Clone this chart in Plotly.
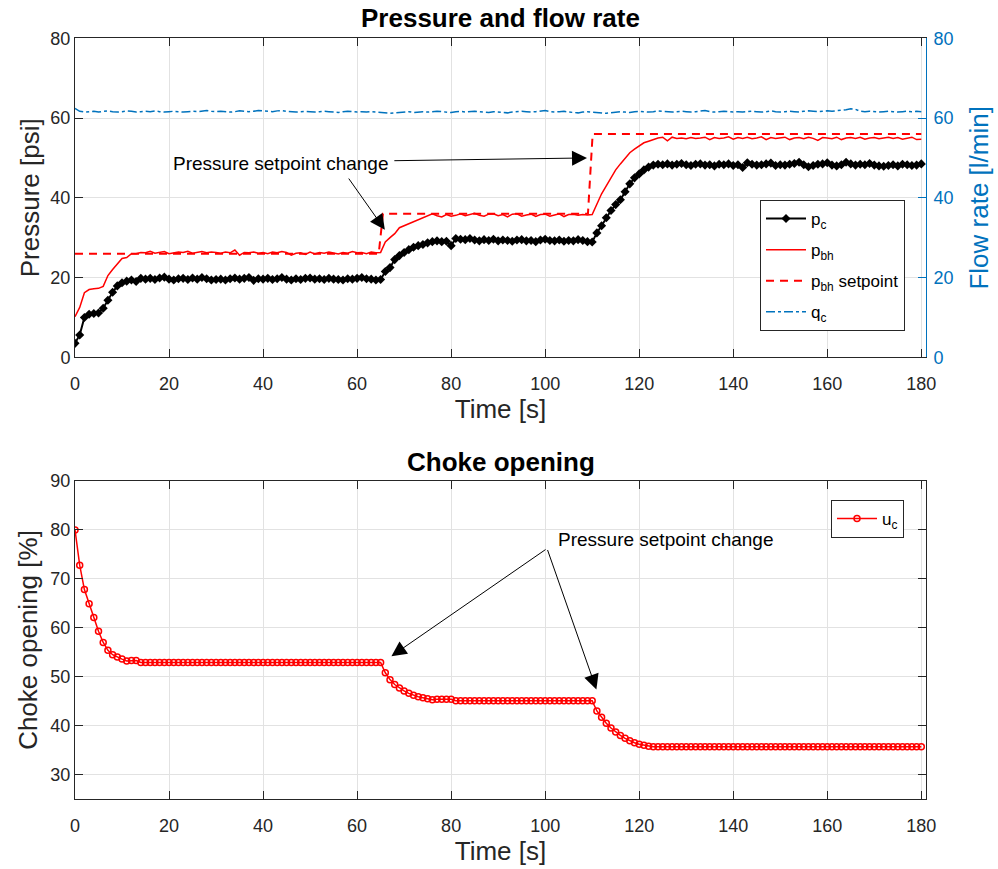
import plotly.graph_objects as go

# ---------------- data ----------------
t = list(range(181))

pc = [
    3.5, 5.6, 10.0, 10.8, 11.0, 11.1, 12.3, 14.3, 16.3, 17.9,
    18.7, 19.1, 19.4, 19.0, 19.8, 19.6, 19.8, 19.5, 19.9, 20.1,
    19.6, 19.4, 19.7, 19.8, 19.5, 19.9, 19.6, 20.0, 19.7, 19.4,
    19.5, 19.6, 19.4, 19.7, 19.9, 19.6, 19.8, 20.0, 19.3, 19.7,
    19.6, 19.8, 19.5, 19.7, 20.0, 19.6, 19.4, 19.7, 19.5, 19.8,
    19.9, 19.6, 19.7, 19.5, 19.8, 19.6, 19.5, 19.4, 19.7, 19.6,
    19.8, 20.0, 19.7, 19.6, 19.4, 19.5, 21.5, 22.5, 24.5, 25.5,
    26.3, 27.0, 27.6, 28.0, 28.3, 28.7, 29.0, 29.2, 29.0, 29.1,
    28.0, 29.8, 29.6, 29.5, 29.8, 29.4, 29.2, 29.5, 29.3, 29.6,
    29.2, 29.4, 29.3, 29.1, 29.4, 29.5, 29.2, 29.3, 29.0, 29.4,
    29.6, 29.3, 29.2, 29.4, 29.1, 29.3, 29.2, 29.5, 29.3, 29.0,
    28.9, 31.2, 33.0, 35.0, 36.8, 38.3, 39.5, 41.5, 43.5, 45.0,
    46.0, 47.0, 47.7, 48.2, 48.4, 48.3, 48.5, 48.2, 48.4, 48.6,
    48.3, 48.1, 48.4, 48.5, 48.2, 48.3, 48.0, 48.4, 48.3, 48.5,
    48.1, 48.3, 47.6, 48.8, 48.4, 48.2, 48.3, 48.5, 48.7, 48.1,
    48.3, 48.2, 48.4, 48.6, 48.9, 48.3, 47.8, 48.1, 48.4, 48.5,
    48.8, 48.2, 48.0, 48.3, 48.9, 48.5, 48.2, 48.4, 48.3, 48.6,
    48.2, 48.0, 47.9, 48.1, 48.3, 48.0, 48.4, 48.3, 48.1, 48.2,
    48.5,
]

pbh = [
    10.2, 12.5, 16.2, 17.0, 17.2, 17.3, 17.8, 20.5, 22.0, 23.5,
    24.8, 25.0, 26.0, 26.0, 26.3, 26.2, 26.6, 26.1, 26.3, 26.5,
    26.0, 26.2, 26.4, 26.3, 26.6, 26.1, 26.3, 26.5, 26.2, 26.4,
    26.3, 26.1, 26.4, 26.2, 26.9, 25.6, 26.3, 26.2, 26.4, 26.1,
    26.3, 26.0, 26.4, 26.2, 26.5, 26.3, 25.6, 26.1, 26.2, 25.8,
    26.4, 25.9, 26.3, 26.1, 26.4, 26.2, 25.9, 26.3, 26.1, 26.5,
    26.2, 26.3, 26.0, 26.4, 26.2, 26.3, 28.9, 30.0, 31.0, 32.5,
    33.0, 33.4, 34.0, 34.5, 35.0, 35.3, 36.0, 35.5, 35.2, 35.8,
    35.4, 35.6, 36.0, 35.5, 35.8, 36.1, 35.6, 35.4, 35.9, 36.0,
    35.5, 35.8, 35.2, 35.9, 36.0, 35.4, 35.7, 35.9, 35.3, 35.8,
    35.9, 35.4, 35.7, 36.0, 35.3, 35.8, 35.9, 35.6, 35.8, 35.7,
    35.8, 38.6, 41.0, 43.0, 45.0, 47.0, 48.5, 50.0, 51.3, 52.2,
    53.0, 53.8, 54.2, 54.7, 55.0, 55.2, 54.3, 55.2, 54.9, 55.0,
    54.8, 55.1, 54.9, 55.0, 55.2, 54.6, 55.1, 54.9, 55.0, 55.3,
    54.7, 55.1, 54.9, 55.2, 54.8, 55.0, 55.3, 54.6, 55.1, 54.9,
    55.0, 55.2, 54.6, 55.0, 55.1, 54.8, 55.2, 54.9, 54.4, 55.1,
    55.0, 54.8, 55.2, 54.6, 55.0, 55.1, 54.9, 55.2, 54.7, 55.0,
    55.1, 54.8, 55.0, 55.2, 54.9, 55.1, 54.7, 55.0, 55.2, 54.6,
    54.7,
]

sp_t = [0, 64.6, 65.5, 109.1, 110.1, 180]
sp_v = [26, 26, 36, 36, 56, 56]

qc = [
    62.4, 61.7, 61.5, 61.6, 61.7, 61.5, 61.6, 61.8, 61.6, 61.5,
    61.6, 61.8, 61.7, 61.5, 61.6, 61.7, 61.6, 61.8, 61.6, 61.5,
    61.6, 61.7, 61.6, 61.5, 61.6, 61.7, 61.6, 61.8, 61.9, 61.7,
    61.6, 61.7, 61.6, 61.5, 61.6, 61.8, 61.7, 61.6, 61.7, 61.9,
    61.8, 61.7, 61.6, 61.8, 61.9, 61.7, 61.6, 61.5, 61.6, 61.7,
    61.6, 61.5, 61.6, 61.7, 61.6, 61.5, 61.4, 61.6, 61.7, 61.6,
    61.5, 61.6, 61.5, 61.6, 61.5, 61.4, 61.3, 61.2, 61.3, 61.4,
    61.5, 61.6, 61.4, 61.5, 61.6, 61.5, 61.6, 61.7, 61.6, 61.5,
    61.4, 61.6, 61.7, 61.5, 61.6, 61.7, 61.6, 61.5, 61.4, 61.6,
    61.5, 61.4, 61.3, 61.5, 61.6, 61.7, 61.6, 61.5, 61.6, 61.7,
    61.9, 61.6, 61.5, 61.6, 61.7, 61.5, 61.4, 61.3, 61.5, 61.6,
    61.5, 61.4, 61.3, 61.2, 61.3, 61.5, 61.6, 61.5, 61.4, 61.6,
    61.7, 61.6, 61.5, 61.6, 61.8, 61.7, 61.6, 61.5, 61.6, 61.7,
    61.6, 61.5, 61.6, 61.7, 61.9, 61.6, 61.5, 61.6, 61.7, 61.6,
    61.5, 61.6, 61.5, 61.6, 61.7, 61.6, 61.5, 61.6, 61.8, 61.6,
    61.5, 61.6, 61.7, 61.6, 61.5, 61.7, 61.8, 61.7, 61.6, 61.7,
    61.8, 61.7, 61.8, 61.9, 62.1, 62.3, 62.2, 61.7, 61.6, 61.7,
    61.6, 61.5, 61.6, 61.7, 61.6, 61.5, 61.6, 61.7, 61.6, 61.7,
    61.6,
]

uc = [
    80.0, 72.8, 67.8, 64.9, 62.1, 59.3, 57.0, 55.4, 54.5, 54.0,
    53.6, 53.2, 53.3, 53.3, 52.9, 52.9, 52.9, 52.9, 52.9, 52.9,
    52.9, 52.9, 52.9, 52.9, 52.9, 52.9, 52.9, 52.9, 52.9, 52.9,
    52.9, 52.9, 52.9, 52.9, 52.9, 52.9, 52.9, 52.9, 52.9, 52.9,
    52.9, 52.9, 52.9, 52.9, 52.9, 52.9, 52.9, 52.9, 52.9, 52.9,
    52.9, 52.9, 52.9, 52.9, 52.9, 52.9, 52.9, 52.9, 52.9, 52.9,
    52.9, 52.9, 52.9, 52.9, 52.9, 52.9, 50.8, 49.4, 48.4, 47.7,
    47.1, 46.6, 46.2, 45.9, 45.7, 45.5, 45.3, 45.4, 45.4, 45.4,
    45.4, 45.1, 45.1, 45.1, 45.1, 45.1, 45.1, 45.1, 45.1, 45.1,
    45.1, 45.1, 45.1, 45.1, 45.1, 45.1, 45.1, 45.1, 45.1, 45.1,
    45.1, 45.1, 45.1, 45.1, 45.1, 45.1, 45.1, 45.1, 45.1, 45.1,
    45.1, 43.0, 41.7, 40.5, 39.5, 38.7, 38.0, 37.4, 36.9, 36.5,
    36.2, 36.0, 35.8, 35.7, 35.7, 35.7, 35.7, 35.7, 35.7, 35.7,
    35.7, 35.7, 35.7, 35.7, 35.7, 35.7, 35.7, 35.7, 35.7, 35.7,
    35.7, 35.7, 35.7, 35.7, 35.7, 35.7, 35.7, 35.7, 35.7, 35.7,
    35.7, 35.7, 35.7, 35.7, 35.7, 35.7, 35.7, 35.7, 35.7, 35.7,
    35.7, 35.7, 35.7, 35.7, 35.7, 35.7, 35.7, 35.7, 35.7, 35.7,
    35.7, 35.7, 35.7, 35.7, 35.7, 35.7, 35.7, 35.7, 35.7, 35.7,
    35.7,
]

x_ticks = [0, 20, 40, 60, 80, 100, 120, 140, 160, 180]
p_ticks = [0, 20, 40, 60, 80]
u_ticks = [30, 40, 50, 60, 70, 80, 90]

# ---------------- style ----------------
FONT = "Liberation Sans, Arial, Helvetica, sans-serif"
AX = "#262626"
GRID = "#e2e2e2"
BLUE = "#0072BD"
RED = "#FF0000"
H = 869

def dom(top_px, bot_px):
    return [1 - bot_px / H, 1 - top_px / H]

fig = go.Figure()

fig.add_trace(go.Scatter(x=t, y=pc, mode="lines+markers", name="p<sub>c</sub>",
                         line=dict(color="black", width=2),
                         marker=dict(symbol="diamond", size=7, color="black"),
                         xaxis="x", yaxis="y", legend="legend", legendgroup="g1"))
fig.add_trace(go.Scatter(x=t, y=pbh, mode="lines", name="p<sub>bh</sub>",
                         line=dict(color=RED, width=1.5),
                         xaxis="x", yaxis="y", legend="legend", legendgroup="g2"))
fig.add_trace(go.Scatter(x=sp_t, y=sp_v, mode="lines", name="p<sub>bh</sub> setpoint",
                         line=dict(color=RED, width=2, dash="8px,6px"),
                         xaxis="x", yaxis="y", legend="legend", legendgroup="g3"))
fig.add_trace(go.Scatter(x=t, y=qc, mode="lines", name="q<sub>c</sub>",
                         line=dict(color=BLUE, width=1.5, dash="dashdot"),
                         xaxis="x", yaxis="y2", legend="legend", legendgroup="g4"))
fig.add_trace(go.Scatter(x=t, y=uc, mode="lines+markers", name="u<sub>c</sub>",
                         line=dict(color=RED, width=1.5),
                         marker=dict(symbol="circle-open", size=6, color=RED,
                                     line=dict(width=1.5, color=RED)),
                         xaxis="x2", yaxis="y3", legend="legend2"))

tickfont = dict(family=FONT, size=18, color=AX)
titlefont = dict(family=FONT, size=26, color=AX)

def xax(anchor):
    return dict(domain=[0, 1], anchor=anchor, range=[0, 181], tickvals=x_ticks,
                ticks="inside", ticklen=8, tickcolor=AX, showline=True, linecolor=AX,
                linewidth=1, mirror="ticks", showgrid=True, gridcolor=GRID,
                zeroline=False, tickfont=tickfont, ticklabelstandoff=10,
                title=dict(text="Time [s]", font=titlefont, standoff=2))

fig.update_layout(
    width=998, height=869,
    margin=dict(l=75, r=72, t=0, b=0, autoexpand=False),
    paper_bgcolor="white", plot_bgcolor="white",
    font=dict(family=FONT, color=AX),
    showlegend=True,
    xaxis=xax("y"),
    xaxis2=xax("y3"),
    yaxis=dict(domain=dom(38.3, 357.3), range=[0, 80], tickvals=p_ticks,
               ticks="inside", ticklen=8, tickcolor=AX, showline=True, linecolor=AX,
               mirror=False, showgrid=True, gridcolor=GRID, zeroline=False,
               tickfont=tickfont,
               title=dict(text="Pressure [psi]", font=titlefont, standoff=3)),
    yaxis2=dict(overlaying="y", anchor="x", side="right", range=[0, 80], tickvals=p_ticks,
                ticks="inside", ticklen=8, tickcolor=BLUE, showline=True, linecolor=BLUE,
                showgrid=False, zeroline=False, ticklabelstandoff=3,
                tickfont=dict(family=FONT, size=18, color=BLUE),
                title=dict(text="Flow rate [l/min]",
                           font=dict(family=FONT, size=26, color=BLUE), standoff=17)),
    yaxis3=dict(domain=dom(481, 799), anchor="x2", range=[25, 90], tickvals=u_ticks,
                ticks="inside", ticklen=8, tickcolor=AX, showline=True, linecolor=AX,
                mirror="ticks", showgrid=True, gridcolor=GRID, zeroline=False,
                tickfont=tickfont,
                title=dict(text="Choke opening [%]", font=titlefont, standoff=5)),
    legend=dict(x=(760 - 75) / 851, y=1 - 200 / H, xanchor="left", yanchor="top",
                bgcolor="white", bordercolor=AX, borderwidth=1,
                font=dict(family=FONT, size=17, color="black"),
                itemwidth=40, tracegroupgap=6),
    legend2=dict(x=(831 - 75) / 851, y=1 - 500 / H, xanchor="left", yanchor="top",
                 bgcolor="white", bordercolor=AX, borderwidth=1,
                 font=dict(family=FONT, size=17, color="black"),
                 itemwidth=40),
)

# Titles
fig.add_annotation(text="<b>Pressure and flow rate</b>", xref="paper", yref="paper",
                   x=0.5, y=1 - 18 / H, xanchor="center", yanchor="middle",
                   showarrow=False, font=dict(family=FONT, size=26, color="black"))
fig.add_annotation(text="<b>Choke opening</b>", xref="paper", yref="paper",
                   x=0.5, y=1 - 462 / H, xanchor="center", yanchor="middle",
                   showarrow=False, font=dict(family=FONT, size=26, color="black"))

ann_font = dict(family=FONT, size=19, color="black")

# Top annotations
fig.add_annotation(text="Pressure setpoint change", xref="x", yref="y",
                   x=20.5, y=48.6, xanchor="left", yanchor="middle",
                   showarrow=False, font=ann_font)
for (tx, ty, hx, hy) in [(67.6, 49.3, 108.9, 50.0), (58.0, 45.2, 65.9, 32.0)]:
    fig.add_annotation(text="", xref="x", yref="y", axref="x", ayref="y",
                       x=hx, y=hy, ax=tx, ay=ty, showarrow=True,
                       arrowhead=2, arrowsize=3, arrowwidth=1, arrowcolor="black",
                       standoff=0, startstandoff=0)

# Bottom annotations
fig.add_annotation(text="Pressure setpoint change", xref="x2", yref="y3",
                   x=102.2, y=78.1, xanchor="left", yanchor="middle",
                   showarrow=False, font=ann_font)
for (tx, ty, hx, hy) in [(100.4, 76.2, 67.3, 54.2), (100.4, 76.2, 110.9, 47.4)]:
    fig.add_annotation(text="", xref="x2", yref="y3", axref="x2", ayref="y3",
                       x=hx, y=hy, ax=tx, ay=ty, showarrow=True,
                       arrowhead=2, arrowsize=3, arrowwidth=1, arrowcolor="black",
                       standoff=0, startstandoff=0)

fig.write_html("out.html")
